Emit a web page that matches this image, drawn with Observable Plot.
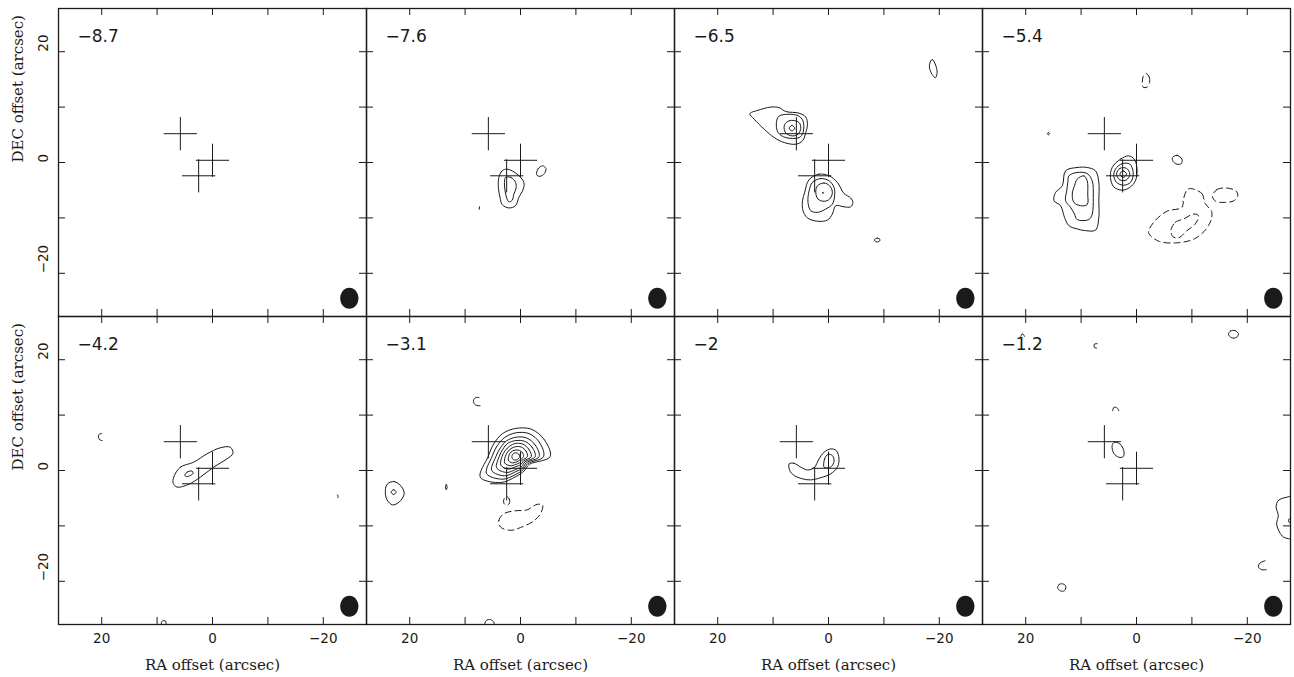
<!DOCTYPE html>
<html><head><meta charset="utf-8">
<script src="https://cdn.jsdelivr.net/npm/d3@7"></script>
<script src="https://cdn.jsdelivr.net/npm/@observablehq/plot@0.6"></script>
<style>body{margin:0;background:#fff}</style>
</head><body><div id="chart"></div>
<script>
// ---- data (arcsec offsets; RA increases to the left) ----
const velocities = ["−8.7", "−7.6", "−6.5", "−5.4", "−4.2", "−3.1", "−2", "−1.2"];
const labelTicks = [20, 0, -20];
const minorTicks = [20, 10, 0, -10, -20];
const crossRA = [5.8, 0, 2.5];
const crossDEC = [5.2, 0.4, -2.4];
const crossArm = 3;
const beamRA = -24.7, beamDEC = -24.5, beamMajor = 3.8, beamMinor = 3.3;

const panel1 = []; // −8.7 : no emission
const panel2 = [ // −7.6
  {type: "solid", pts: [[2.4,-1.2],[0.6,-2.1],[-0.6,-3.6],[-0.5,-4.8],[0.3,-6.3],[0.9,-7.8],[2.1,-8.2],[3.3,-7.6],[3.7,-6.3],[4.0,-4.5],[3.9,-2.7],[3.3,-1.5]]},
  {type: "solid", pts: [[2.7,-2.7],[1.7,-2.7],[0.9,-3.6],[0.8,-4.6],[1.2,-5.7],[1.5,-6.8],[2.1,-7.1],[2.5,-6.4],[2.8,-5.0],[2.9,-3.6]]},
  {type: "solid", pts: [[-2.9,-2.2],[-3.2,-1.1],[-4.0,-0.6],[-4.6,-1.1],[-4.3,-2.0],[-3.5,-2.5]]},
  {type: "open", pts: [[7.4,-8.0],[7.45,-8.45]]}
];
const panel3 = [ // −6.5
  {type: "solid", pts: [[14.2,8.8],[12.8,9.4],[10.4,10.0],[8.9,9.9],[7.7,9.2],[5.3,8.9],[4.1,8.2],[3.8,6.9],[4.1,5.4],[4.7,3.9],[5.9,3.3],[8.0,3.6],[9.8,4.5],[11.6,6.0],[13.4,7.8]]},
  {type: "solid", pts: [[8.9,8.4],[5.6,8.5],[4.6,7.5],[4.6,5.4],[5.3,4.5],[7.7,4.5],[9.1,5.4],[9.4,7.2]]},
  {type: "solid", pts: [[8.0,6.6],[7.4,7.4],[6.4,7.6],[5.3,7.2],[5.0,6.2],[5.5,5.1],[6.5,4.8],[7.7,5.3]]},
  {type: "solid", pts: [[7.1,6.2],[6.6,6.7],[6.1,6.2],[6.6,5.7]]},
  {type: "solid", pts: [[3.2,-2.8],[1.7,-2.1],[-0.1,-2.4],[-1.6,-3.6],[-2.8,-5.6],[-4.0,-6.4],[-4.4,-7.2],[-4.0,-8.0],[-2.8,-8.0],[-1.3,-7.8],[-0.7,-9.3],[0.2,-10.4],[2.0,-10.6],[3.8,-10.0],[4.6,-8.7],[4.7,-6.9],[4.3,-5.4],[3.8,-3.6]]},
  {type: "solid", pts: [[2.9,-3.6],[1.4,-2.9],[-0.1,-3.3],[-1.0,-4.5],[-1.1,-6.0],[-0.7,-7.5],[0.5,-8.4],[2.0,-9.0],[3.2,-8.7],[3.7,-7.2],[3.5,-5.1]]},
  {type: "solid", pts: [[2.0,-4.2],[0.8,-3.7],[-0.2,-4.2],[-0.7,-5.4],[-0.2,-6.6],[0.8,-7.0],[1.9,-6.6],[2.3,-5.4]]},
  {type: "solid", pts: [[1.1,-5.5],[1.0,-5.4],[0.9,-5.5],[1.0,-5.6]]},
  {type: "solid", pts: [[-18.7,18.6],[-19.3,17.7],[-19.6,16.2],[-19.3,15.3],[-18.7,15.9],[-18.2,17.4]]},
  {type: "solid", pts: [[-8.25,-14.0],[-8.8,-13.64],[-9.35,-14.0],[-8.8,-14.36]]}
];
const panel4 = [ // −5.4
  {type: "solid", pts: [[12.8,-1.5],[10.7,-0.9],[8.9,-0.9],[7.4,-1.5],[6.8,-3.6],[6.8,-6.9],[6.8,-9.9],[7.4,-12.2],[9.2,-12.3],[10.7,-12.0],[12.2,-11.4],[13.0,-9.9],[13.7,-7.8],[14.9,-6.9],[14.6,-5.4],[13.4,-4.2]]},
  {type: "solid", pts: [[12.2,-2.4],[10.7,-1.8],[8.9,-2.0],[8.0,-3.3],[7.8,-6.3],[8.0,-9.3],[8.6,-10.3],[10.7,-10.3],[11.2,-9.3],[11.9,-8.1],[12.8,-6.9],[12.6,-5.1],[12.4,-3.6]]},
  {type: "solid", pts: [[10.7,-3.0],[9.5,-2.4],[8.9,-3.3],[8.8,-5.7],[8.9,-7.6],[10.1,-7.8],[11.3,-7.2],[11.6,-5.7],[11.2,-4.2]]},
  {type: "solid", pts: [[4.4,-0.9],[2.9,0.6],[1.4,1.2],[0.4,0.6],[-0.1,-1.2],[0.2,-3.3],[1.2,-4.5],[2.6,-5.0],[4.1,-4.4],[4.7,-2.7]]},
  {type: "solid", pts: [[3.8,-1.2],[2.6,-0.2],[1.2,-0.3],[0.6,-1.8],[1.0,-3.5],[2.3,-4.1],[3.6,-3.6],[4.1,-2.4]]},
  {type: "solid", pts: [[3.6,-2.1],[3.0,-1.06],[1.8,-1.06],[1.2,-2.1],[1.8,-3.14],[3.0,-3.14]]},
  {type: "solid", pts: [[3.0,-2.1],[2.4,-1.5],[1.8,-2.1],[2.4,-2.7]]},
  {type: "solid", pts: [[-6.5,0.9],[-7.3,1.3],[-8.2,0.6],[-8.1,-0.2],[-7.3,-0.3],[-6.6,0.2]]},
  {type: "solid", pts: [[16.1,5.2],[15.9,5.4],[15.7,5.2],[15.9,5.0]]},
  {type: "dashed", pts: [[-1.7,16.1],[-2.3,15.4],[-2.35,14.5],[-1.9,13.6],[-1.2,13.6],[-1.05,14.4],[-1.2,15.5]]},
  {type: "dashed", pts: [[-9.7,-4.7],[-11.8,-5.6],[-12.4,-7.4],[-13.6,-9.0],[-13.0,-11.4],[-10.6,-13.7],[-7.3,-14.5],[-4.0,-14.2],[-2.2,-12.7],[-3.1,-10.8],[-5.5,-8.8],[-8.2,-8.1],[-8.5,-6.5],[-9.1,-5.0]]},
  {type: "dashed", pts: [[-6.2,-12.3],[-7.0,-10.8],[-8.5,-10.2],[-10.3,-9.3],[-11.2,-9.6],[-10.6,-11.1],[-9.1,-12.3],[-7.6,-13.6],[-6.6,-13.4]]},
  {type: "dashed", pts: [[-13.7,-6.1],[-14.5,-4.9],[-16.2,-4.6],[-17.9,-5.1],[-18.3,-5.9],[-17.6,-6.9],[-15.8,-7.2],[-14.3,-7.0]]}
];
const panel5 = [ // −4.2
  {type: "solid", pts: [[7.0,-1.2],[5.8,0.6],[3.4,1.5],[1.0,3.0],[-1.4,4.1],[-3.2,4.2],[-3.7,3.1],[-2.6,2.1],[-0.2,0.6],[2.2,-1.2],[4.3,-2.5],[6.4,-3.0],[7.1,-2.3]]},
  {type: "solid", pts: [[5.0,-0.9],[4.6,-0.3],[3.7,-0.1],[3.5,-0.5],[4.0,-0.9],[4.7,-1.1]]},
  {type: "open", pts: [[20.0,6.7],[20.5,6.5],[20.6,6.0],[20.3,5.5],[19.9,5.4]]},
  {type: "open", pts: [[-22.5,-4.4],[-22.7,-4.6],[-22.6,-4.9]]},
  {type: "open", pts: [[9.2,-27.9],[9.2,-27.3],[8.8,-27.1],[8.4,-27.3],[8.4,-27.9]]}
];
// −3.1 : nested contours of the bright peak, radii (arcsec) read at fixed angles
const p6Center = [0.85, 2.5];
const p6Angles = [0, 30, 60, 90, 120, 150, 180, 210, 240, 270, 300, 330];
const p6Radii = [
  [0.7,0.7,0.7,0.7,0.7,0.7,0.7,0.7,0.7,0.6,0.6,0.6],
  [1.4,1.4,1.3,1.2,1.2,1.2,1.3,1.5,1.3,1.0,0.9,1.0],
  [2.1,2.1,2.0,1.8,1.7,1.7,1.9,2.3,1.9,1.4,1.3,1.3],
  [2.8,2.7,2.6,2.4,2.2,2.2,2.5,3.1,2.6,1.8,1.7,1.6],
  [3.5,3.4,3.2,2.9,2.8,2.7,3.0,4.0,3.3,2.3,2.1,1.9],
  [4.2,4.1,3.9,3.5,3.3,3.2,3.6,5.0,4.0,2.7,2.4,2.2],
  [5.0,5.0,4.8,4.3,4.0,3.9,4.3,6.1,4.7,3.2,2.7,2.5],
  [6.2,6.0,5.7,5.1,4.8,4.6,5.0,7.4,5.4,3.6,3.0,2.8]
];
const panel6 = [ // −3.1 (other contours)
  {type: "solid", pts: [[24.0,-2.4],[22.8,-2.0],[21.5,-2.9],[21.0,-4.2],[21.9,-5.7],[23.1,-6.2],[24.1,-5.3],[24.4,-3.6]]},
  {type: "solid", pts: [[23.35,-3.9],[22.9,-3.45],[22.45,-3.9],[22.9,-4.35]]},
  {type: "solid", pts: [[13.55,-3.0],[13.4,-2.5],[13.25,-3.0],[13.4,-3.5]]},
  {type: "open", pts: [[7.5,13.2],[8.2,13.1],[8.5,12.5],[8.1,11.8],[7.3,11.7]]},
  {type: "open", pts: [[6.5,-27.9],[6.2,-27.1],[5.4,-26.9],[4.8,-27.4],[4.8,-27.9]]},
  {type: "dashed", pts: [[2.5,-4.7],[2.0,-5.2],[2.0,-5.9],[2.5,-6.3],[3.0,-5.9],[3.0,-5.2]]},
  {type: "dashed", pts: [[3.6,-10.2],[3.9,-9.0],[3.0,-7.8],[1.2,-7.3],[-1.2,-7.1],[-3.0,-6.1],[-4.0,-6.3],[-3.6,-7.8],[-2.4,-9.1],[0.0,-10.3],[1.8,-10.8]]}
];
const panel7 = [ // −2
  {type: "solid", pts: [[7.1,1.2],[6.2,1.3],[5.0,0.6],[3.8,0.1],[2.6,0.5],[1.7,2.1],[0.8,3.3],[-0.4,3.9],[-1.4,3.6],[-1.9,2.1],[-1.6,0.6],[-0.4,-0.6],[1.4,-1.3],[3.2,-1.7],[4.7,-1.5],[6.2,-0.9],[7.0,0.0]]},
  {type: "solid", pts: [[0.8,0.6],[0.7,2.1],[0.1,2.9],[-0.7,2.7],[-1.0,1.7],[-0.5,0.7],[0.2,0.5]]}
];
const panel8 = [ // −1.2
  {type: "solid", pts: [[4.4,4.5],[4.0,5.1],[3.0,4.8],[2.3,3.6],[2.4,2.5],[3.2,2.4],[4.1,3.1]]},
  {type: "solid", pts: [[-16.6,24.6],[-17.0,25.2],[-17.8,25.25],[-18.4,24.7],[-18.0,24.0],[-17.2,23.95]]},
  {type: "solid", pts: [[14.2,-21.3],[14.0,-20.6],[13.4,-20.45],[12.8,-20.8],[12.9,-21.6],[13.5,-21.8]]},
  {type: "solid", pts: [[-27.2,-4.8],[-25.6,-5.4],[-25.2,-6.6],[-25.6,-8.1],[-25.3,-9.6],[-25.8,-11.1],[-26.5,-12.0],[-27.4,-12.3],[-29.5,-12.5],[-29.5,-4.5]]},
  {type: "open", pts: [[-27.9,-8.6],[-27.5,-8.8],[-27.5,-9.3],[-27.9,-9.5]]},
  {type: "open", pts: [[-23.2,-16.3],[-22.3,-16.7],[-22.0,-17.4],[-22.6,-17.9],[-23.4,-17.9]]},
  {type: "open", pts: [[7.1,22.9],[7.6,22.8],[7.6,22.2],[7.2,22.1]]},
  {type: "open", pts: [[4.3,10.8],[4.1,11.4],[3.5,11.3],[3.2,10.8]]},
  {type: "open", pts: [[20.9,24.2],[20.6,24.7],[20.2,24.2]]}
];

// ---- layout ----
const W = 1294, H = 677, ML = 58, MR = 4, MT = 8, MB = 53;
const FW = (W - ML - MR) / 4, FH = (H - MT - MB) / 2;
const LIM = 27.8;
const PX = FW / (2 * LIM);
const TICK = 7;
const INK = "#1a1a1a";

const fmt = v => v < 0 ? "−" + Math.abs(v) : String(v);
const ring6 = p6Radii.map(r => ({type: "solid", pts: p6Angles.map((a, i) => [
  p6Center[0] - r[i] * Math.cos(a * Math.PI / 180),
  p6Center[1] + r[i] * Math.sin(a * Math.PI / 180)])}));
const panels = [panel1, panel2, panel3, panel4, panel5, ring6.concat(panel6), panel7, panel8];

const pts = [];
panels.forEach((list, p) => list.forEach((c, j) => c.pts.forEach(([ra, dec]) =>
  pts.push({col: p % 4, row: Math.floor(p / 4), id: p * 100 + j, type: c.type, ra, dec}))));

const cells = velocities.map((v, i) => ({v, col: i % 4, row: Math.floor(i / 4)}));
const crosses = crossRA.map((ra, i) => ({ra, dec: crossDEC[i]}));
const cols = [0, 1, 2, 3], rows = [0, 1];
const xLab = cols.flatMap(c => labelTicks.map(v => ({c, v})));
const yLab = rows.flatMap(r => labelTicks.map(v => ({r, v})));

const rx = beamMinor / 2 * PX, ry = beamMajor / 2 * PX, K = 0.5523;
const beamSymbol = {draw(ctx) {
  ctx.moveTo(rx, 0);
  ctx.bezierCurveTo(rx, K * ry, K * rx, ry, 0, ry);
  ctx.bezierCurveTo(-K * rx, ry, -rx, K * ry, -rx, 0);
  ctx.bezierCurveTo(-rx, -K * ry, -K * rx, -ry, 0, -ry);
  ctx.bezierCurveTo(K * rx, -ry, rx, -K * ry, rx, 0);
  ctx.closePath();
}};

const lineOpts = {x: "ra", y: "dec", z: "id", fx: "col", fy: "row", stroke: INK, strokeWidth: 1, clip: true};
const sans = "DejaVu Sans", serif = "DejaVu Serif";

const chart = Plot.plot({
  width: W, height: H,
  marginLeft: ML, marginRight: MR, marginTop: MT, marginBottom: MB,
  x: {domain: [LIM, -LIM], axis: null},
  y: {domain: [-LIM, LIM], axis: null},
  fx: {domain: cols, padding: 0, axis: null},
  fy: {domain: rows, padding: 0, axis: null},
  style: {background: "white", color: INK},
  marks: [
    Plot.tickX(minorTicks, {x: d => d, insetBottom: FH - TICK, stroke: INK}),
    Plot.tickX(minorTicks, {x: d => d, insetTop: FH - TICK, stroke: INK}),
    Plot.tickY(minorTicks, {y: d => d, insetRight: FW - TICK, stroke: INK}),
    Plot.tickY(minorTicks, {y: d => d, insetLeft: FW - TICK, stroke: INK}),
    Plot.line(pts.filter(d => d.type === "solid"), {...lineOpts, curve: "catmull-rom-closed"}),
    Plot.line(pts.filter(d => d.type === "dashed"), {...lineOpts, curve: "catmull-rom-closed", strokeDasharray: "6,4"}),
    Plot.line(pts.filter(d => d.type === "open"), {...lineOpts, curve: "catmull-rom"}),
    Plot.link(crosses, {x1: d => d.ra + crossArm, x2: d => d.ra - crossArm, y1: "dec", y2: "dec", stroke: INK, strokeWidth: 1}),
    Plot.link(crosses, {x1: "ra", x2: "ra", y1: d => d.dec - crossArm, y2: d => d.dec + crossArm, stroke: INK, strokeWidth: 1}),
    Plot.dot([{ra: beamRA, dec: beamDEC}], {x: "ra", y: "dec", symbol: beamSymbol, fill: INK, stroke: "none", r: 10}),
    Plot.frame({stroke: INK, strokeWidth: 1.3}),
    Plot.text(cells, {fx: "col", fy: "row", text: "v", frameAnchor: "top-left", textAnchor: "start",
      lineAnchor: "middle", dx: 19, dy: 28, fontSize: 17, fontFamily: sans, fill: INK}),
    Plot.text(xLab, {x: "v", fx: "c", fy: () => 1, text: d => fmt(d.v), frameAnchor: "bottom",
      lineAnchor: "middle", dy: 14, fontSize: 13.5, fontFamily: sans, fill: INK}),
    Plot.text(yLab, {y: "v", fx: () => 0, fy: "r", text: d => fmt(d.v), frameAnchor: "left",
      rotate: -90, lineAnchor: "middle", dx: -15, fontSize: 13.5, fontFamily: sans, fill: INK}),
    Plot.text(cols, {fx: d => d, fy: () => 1, text: () => "RA offset (arcsec)", frameAnchor: "bottom",
      lineAnchor: "middle", dy: 41, fontSize: 15, fontFamily: serif, fill: INK}),
    Plot.text(rows, {fx: () => 0, fy: d => d, text: () => "DEC offset (arcsec)", frameAnchor: "left",
      rotate: -90, lineAnchor: "middle", dx: -40, fontSize: 15, fontFamily: serif, fill: INK})
  ]
});
document.getElementById("chart").append(chart);
</script></body></html>
